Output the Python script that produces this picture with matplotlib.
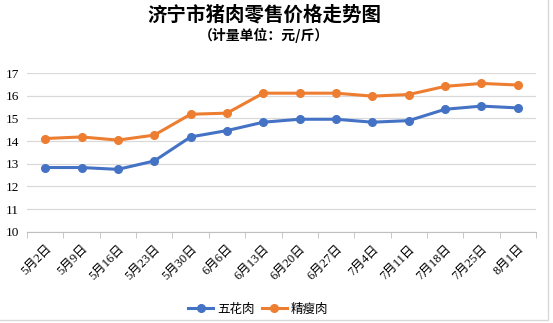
import matplotlib.pyplot as plt
from matplotlib.patches import Rectangle

dates = ['5月2日', '5月9日', '5月16日', '5月23日', '5月30日', '6月6日', '6月13日',
         '6月20日', '6月27日', '7月4日', '7月11日', '7月18日', '7月25日', '8月1日']
wuhua = [12.83, 12.83, 12.75, 13.12, 14.18, 14.46, 14.83,
         14.96, 14.96, 14.83, 14.90, 15.40, 15.54, 15.46]
jingshou = [14.11, 14.18, 14.04, 14.26, 15.18, 15.23, 16.11,
            16.11, 16.11, 15.98, 16.05, 16.41, 16.54, 16.47]

cjk = ['Noto Sans CJK SC', 'DejaVu Sans']
serif = ['Liberation Serif', 'Noto Sans CJK SC']

fig = plt.figure(figsize=(5.53, 3.23), dpi=100)
ax = fig.add_axes([27 / 553, 1 - 231.7 / 323, (536 - 27) / 553, (231.7 - 73) / 323])

x = list(range(len(dates)))
ax.plot(x, wuhua, color='#4472C4', lw=2.2, marker='o', ms=5.5, label='五花肉')
ax.plot(x, jingshou, color='#ED7D31', lw=2.2, marker='o', ms=5.5, label='精瘦肉')

ax.set_ylim(10, 17)
ax.set_xlim(-0.5, len(dates) - 0.5)
ax.set_yticks(range(10, 18))
ax.set_yticklabels([str(v) for v in range(10, 18)], family=serif, fontsize=9.5)
ax.grid(axis='y', color='#D9D9D9', lw=0.9)
ax.set_axisbelow(True)
for s in ['top', 'right', 'left']:
    ax.spines[s].set_visible(False)
ax.spines['bottom'].set_color('#BFBFBF')
ax.tick_params(axis='y', length=0, pad=6)

ax.set_xticks(x)
ax.set_xticklabels(dates, rotation=45, ha='right', rotation_mode='anchor',
                   family=serif, fontsize=9)
ax.tick_params(axis='x', which='major', length=0, pad=8)
ax.set_xticks([i - 0.5 for i in range(len(dates) + 1)], minor=True)
ax.tick_params(axis='x', which='minor', length=4, color='#BFBFBF')

fig.text(0.478, 1 - 15 / 323, '济宁市猪肉零售价格走势图', ha='center', va='center',
         family=cjk, fontsize=14, fontweight='bold')
fig.text(0.478, 1 - 35 / 323, '（计量单位：元/斤）', ha='center', va='center',
         family=cjk, fontsize=10, fontweight='bold')

fig.legend(loc='center', bbox_to_anchor=(258 / 553, 1 - 309 / 323), ncol=2, frameon=False,
           prop={'family': cjk, 'size': 9}, handlelength=2.0, columnspacing=0.6,
           handletextpad=0.3)

fig.patches.append(Rectangle((-0.01, 3 / 323), 548 / 553 + 0.01, 1.0,
                             transform=fig.transFigure, fill=False,
                             edgecolor='#D9D9D9', lw=1))

fig.savefig('out.png', dpi=100)
